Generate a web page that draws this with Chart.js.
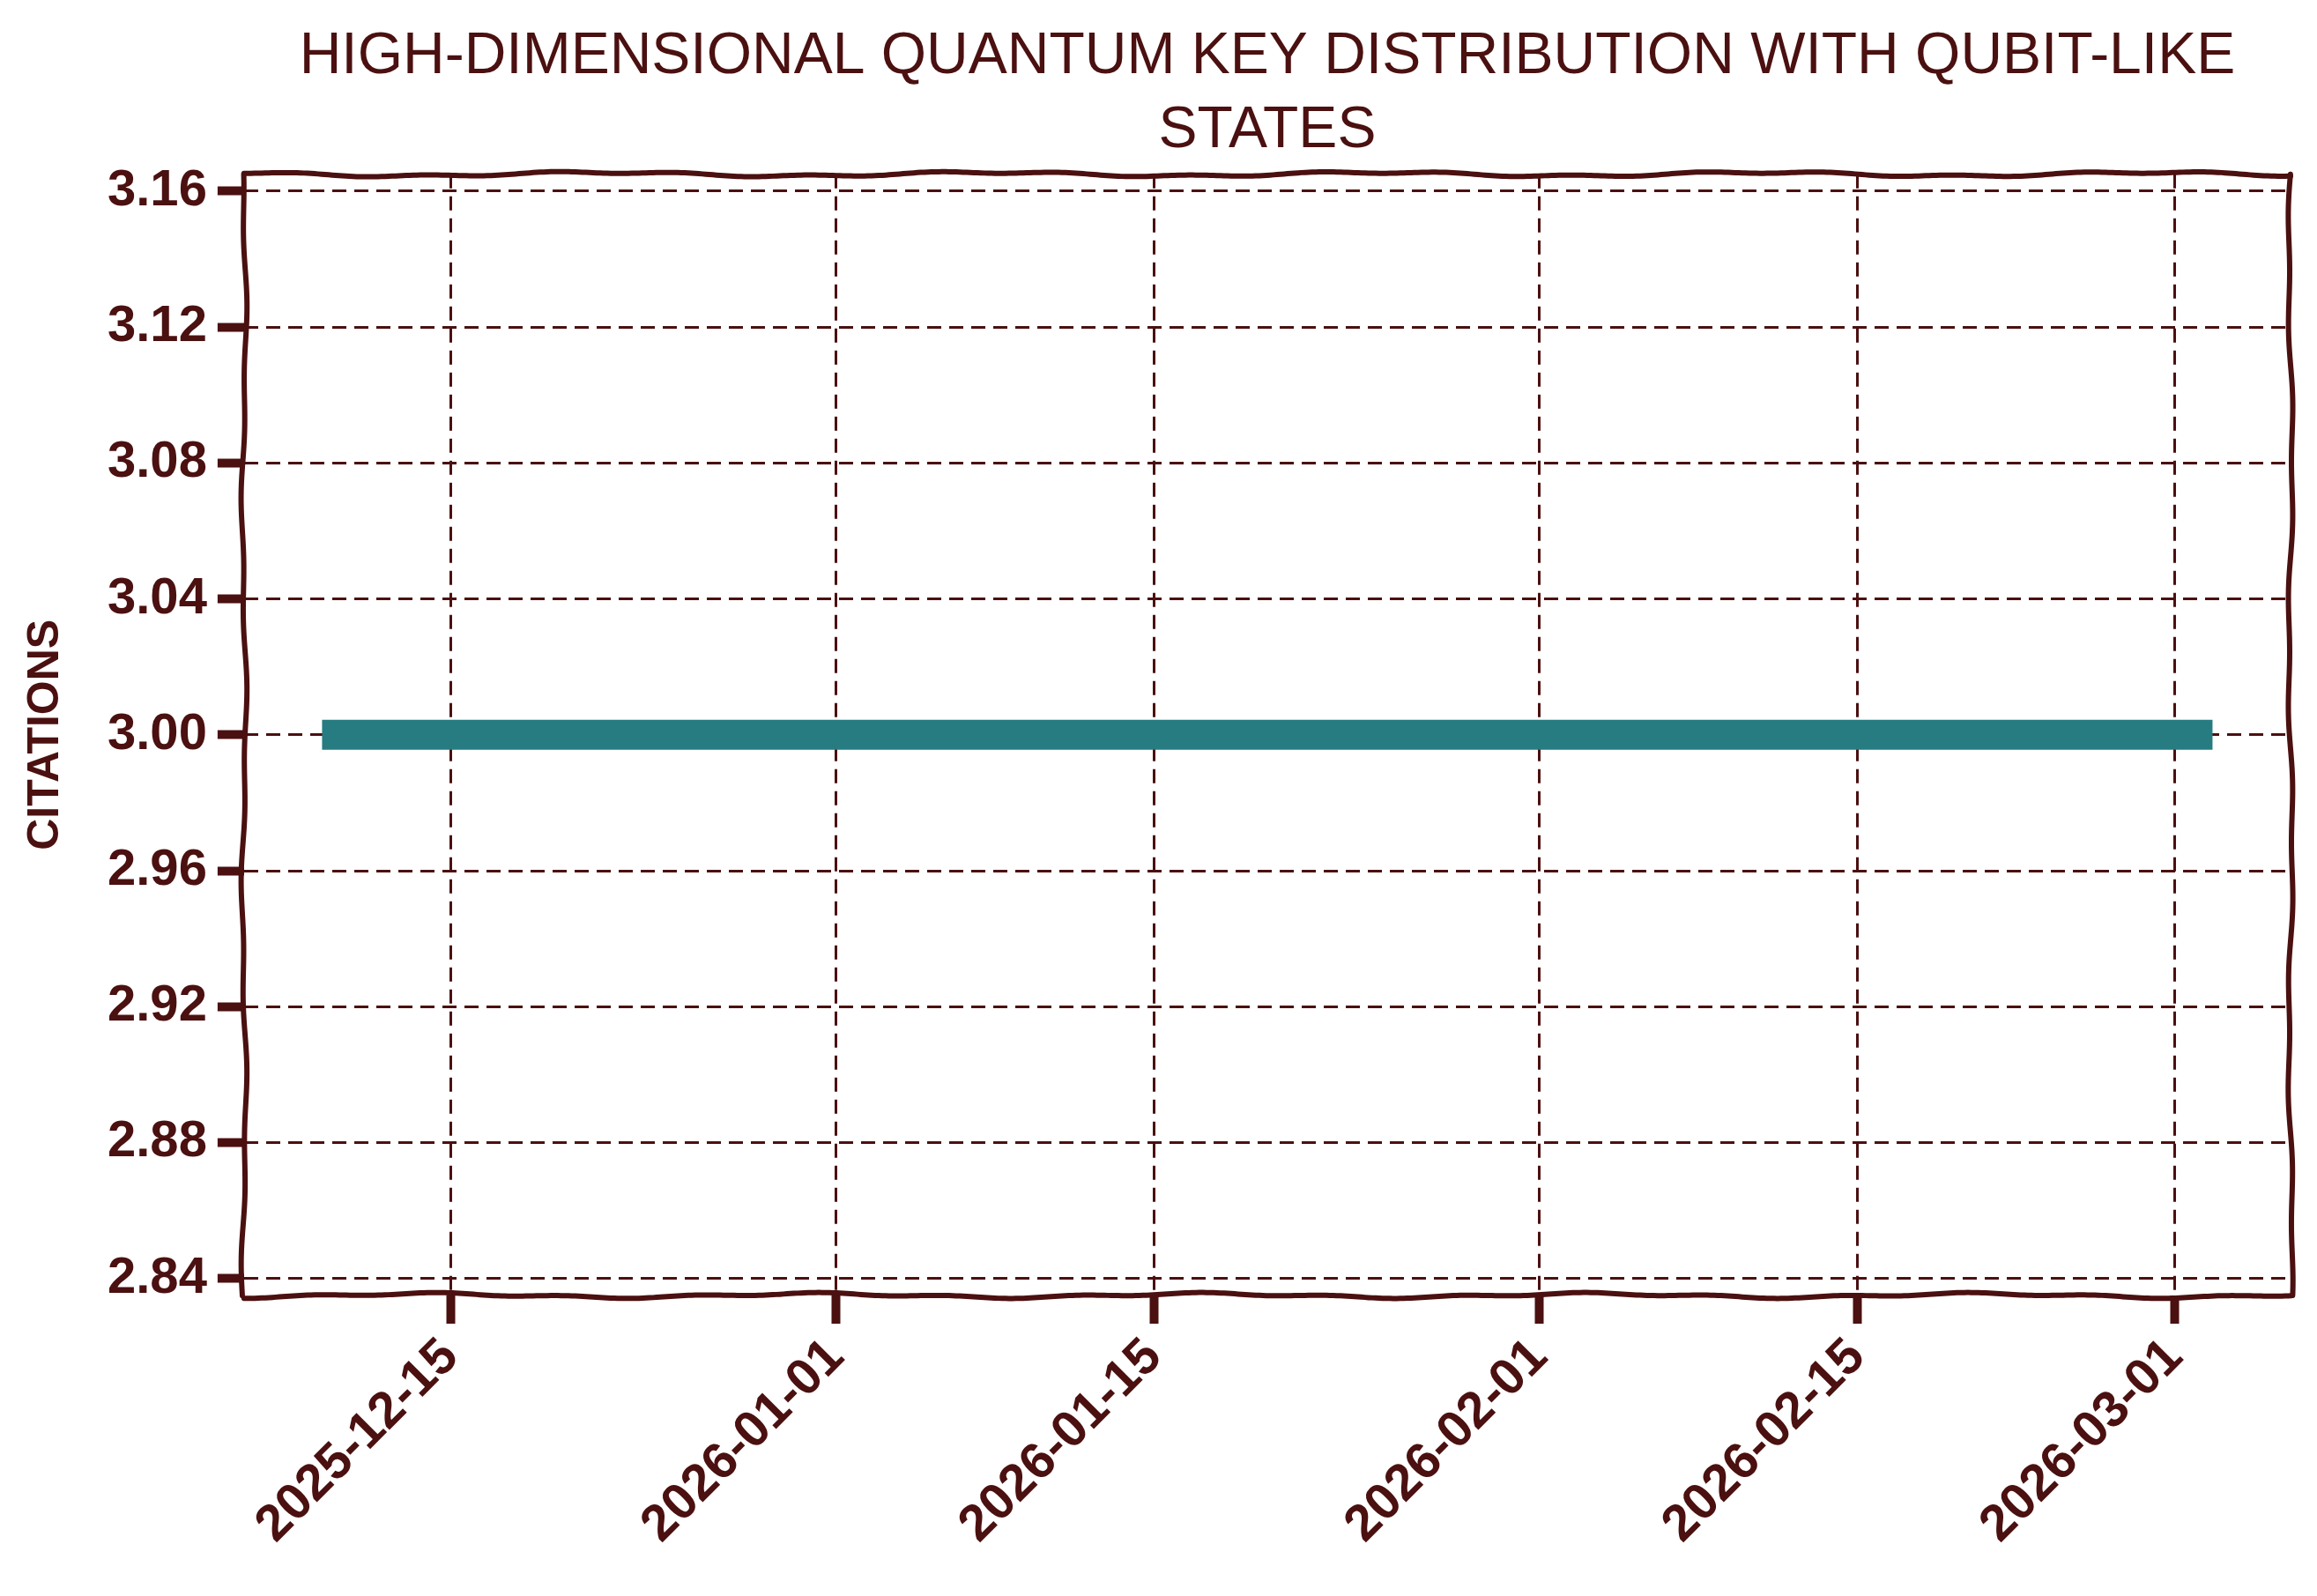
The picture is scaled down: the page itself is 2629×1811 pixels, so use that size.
<!DOCTYPE html>
<html>
<head>
<meta charset="utf-8">
<script src="https://cdn.jsdelivr.net/npm/chart.js@4.4.1/dist/chart.umd.min.js"></script>
<style>
  html, body { margin: 0; padding: 0; background: #fff; }
</style>
</head>
<body>
<canvas id="citeChart" width="2629" height="1811"></canvas>
<script>
'use strict';

// ---- data ----
const dates = ['2025-12-10', '2025-12-17', '2025-12-24', '2025-12-31', '2026-01-07',
  '2026-01-14', '2026-01-21', '2026-01-28', '2026-02-04', '2026-02-11',
  '2026-02-18', '2026-02-25', '2026-03-02'];
const citations = [3, 3, 3, 3, 3, 3, 3, 3, 3, 3, 3, 3, 3];
const xTickDates = ['2025-12-15', '2026-01-01', '2026-01-15', '2026-02-01', '2026-02-15', '2026-03-01'];
const yTicks = [2.84, 2.88, 2.92, 2.96, 3.00, 3.04, 3.08, 3.12, 3.16];
const yMin = 2.835;
const yMax = 3.165;

const ink = '#4b1010';
const teal = '#267c80';
const DAY = 86400000;

// days since epoch, so the linear scale can stand in for a time axis
function toDay(s) {
  return Date.UTC(+s.slice(0, 4), +s.slice(5, 7) - 1, +s.slice(8, 10)) / DAY;
}
function fmtDay(v) {
  return new Date(Math.round(v) * DAY).toISOString().slice(0, 10);
}

let points = dates.map((d, i) => ({ x: toDay(d), y: citations[i] }));
let first = toDay(dates[0]);
let last = toDay(dates[dates.length - 1]);
let pad = (last - first) * 0.05;

// hand drawn looking frame around the plot area
const wobblyFrame = {
  id: 'wobblyFrame',
  afterDraw(chart) {
    const { ctx, chartArea: a } = chart;
    const wob = (t, seed) => 2.2 * Math.sin(t / 70 + seed) + 1.2 * Math.sin(t / 23 + seed * 2);
    ctx.save();
    ctx.strokeStyle = ink;
    ctx.lineWidth = 6;
    ctx.lineCap = 'round';
    ctx.lineJoin = 'round';
    // top and bottom
    [[a.top, 1.3], [a.bottom, 4.1]].forEach(([y, s]) => {
      ctx.beginPath();
      for (let x = a.left; x <= a.right; x += 4) {
        let yy = y + wob(x, s);
        if (x === a.left) ctx.moveTo(x, yy); else ctx.lineTo(x, yy);
      }
      ctx.lineTo(a.right, y + wob(a.right, s));
      ctx.stroke();
    });
    // left and right
    [[a.left, 2.7], [a.right, 0.4]].forEach(([x, s]) => {
      ctx.beginPath();
      for (let y = a.top; y <= a.bottom; y += 4) {
        let xx = x + wob(y, s);
        if (y === a.top) ctx.moveTo(xx, y); else ctx.lineTo(xx, y);
      }
      ctx.lineTo(x + wob(a.bottom, s), a.bottom);
      ctx.stroke();
    });
    ctx.restore();
  }
};

const tickFont = { family: "'Liberation Sans', Arial, sans-serif", size: 58, weight: 'bold' };

new Chart(document.getElementById('citeChart'), {
  type: 'line',
  data: {
    datasets: [{
      label: 'Citations',
      data: points,
      borderColor: teal,
      borderWidth: 34,
      borderCapStyle: 'square',
      pointRadius: 0,
      tension: 0,
      fill: false
    }]
  },
  options: {
    responsive: false,
    animation: false,
    layout: { padding: { left: 0, right: 30, top: 0, bottom: 42 } },
    plugins: {
      legend: { display: false },
      tooltip: { enabled: false },
      title: {
        display: true,
        fullSize: false,
        text: ['HIGH-DIMENSIONAL QUANTUM KEY DISTRIBUTION WITH QUBIT-LIKE', 'STATES'],
        color: ink,
        font: { family: "'Liberation Sans', sans-serif", size: 66, weight: 'normal', lineHeight: 1.27 },
        padding: { top: 23, bottom: 7 }
      }
    },
    scales: {
      x: {
        type: 'linear',
        min: first - pad,
        max: last + pad,
        afterBuildTicks: (scale) => {
          scale.ticks = xTickDates.map(d => ({ value: toDay(d) }));
        },
        ticks: {
          color: ink,
          font: tickFont,
          minRotation: 45,
          maxRotation: 45,
          padding: 4,
          callback: (v) => fmtDay(v)
        },
        grid: {
          color: ink,
          lineWidth: 3,
          tickLength: 32,
          tickWidth: 10,
          tickColor: ink
        },
        border: { display: false, dash: [16, 9] }
      },
      y: {
        min: yMin,
        max: yMax,
        afterBuildTicks: (scale) => {
          scale.ticks = yTicks.map(v => ({ value: v }));
        },
        ticks: {
          color: ink,
          font: tickFont,
          padding: 12,
          callback: (v) => v.toFixed(2)
        },
        grid: {
          color: ink,
          lineWidth: 3,
          tickLength: 30,
          tickWidth: 10,
          tickColor: ink
        },
        border: { display: false, dash: [16, 9] },
        title: {
          display: true,
          text: 'CITATIONS',
          color: ink,
          font: { family: "'Liberation Sans', sans-serif", size: 50, weight: 'bold' },
          padding: { top: 22, bottom: 28 }
        }
      }
    }
  },
  plugins: [wobblyFrame]
});
</script>
</body>
</html>
